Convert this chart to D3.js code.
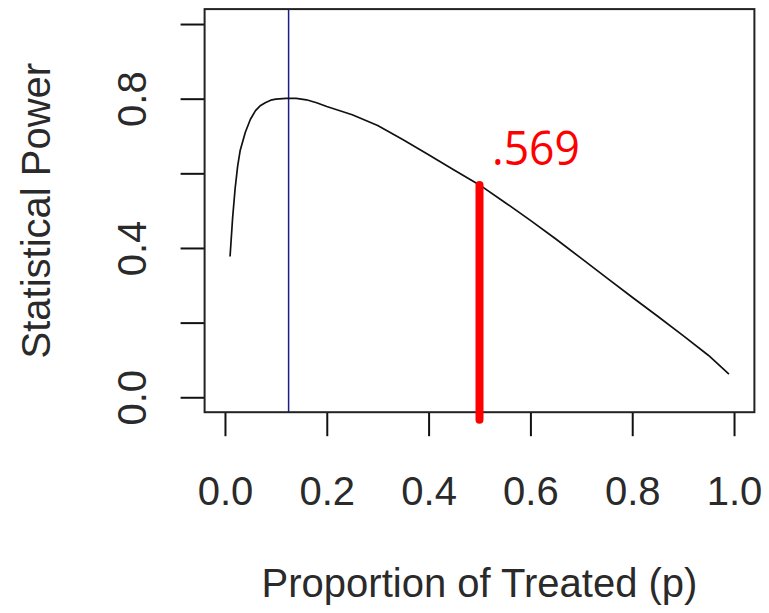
<!DOCTYPE html>
<html>
<head>
<meta charset="utf-8">
<script src="https://cdn.jsdelivr.net/npm/d3@7"></script>
<style>
  html, body { margin: 0; padding: 0; background: #fff; }
  svg { display: block; }
</style>
</head>
<body>
<svg id="chart" width="769" height="613"></svg>
<script>
// ---- data ----
const pValues = [0.01, 0.015, 0.02, 0.025, 0.03, 0.04, 0.05, 0.06, 0.07, 0.08, 0.09, 0.10,
                 0.12, 0.14, 0.16, 0.18, 0.20, 0.25, 0.30, 0.35, 0.40, 0.45, 0.50, 0.55,
                 0.60, 0.65, 0.70, 0.75, 0.80, 0.85, 0.90, 0.95, 0.99];
const powerValues = [0.377, 0.48, 0.56, 0.62, 0.662, 0.71, 0.745, 0.768, 0.782, 0.790, 0.796, 0.799,
                     0.801, 0.801, 0.797, 0.789, 0.779, 0.757, 0.728, 0.690, 0.650, 0.609, 0.569, 0.522,
                     0.474, 0.424, 0.372, 0.320, 0.268, 0.217, 0.165, 0.112, 0.062];
const xTicks = [0.0, 0.2, 0.4, 0.6, 0.8, 1.0];
const xTickLabels = ["0.0", "0.2", "0.4", "0.6", "0.8", "1.0"];
const yTicks = [0.0, 0.2, 0.4, 0.6, 0.8, 1.0];
const yTickLabels = ["0.0", "", "0.4", "", "0.8", ""];
const optimalP = 0.125;       // blue vertical line
const markedP = 0.5;          // red marker
const markedPower = 0.569;
const markedLabel = ".569";
const xTitle = "Proportion of Treated (p)";
const yTitle = "Statistical Power";

// ---- layout ----
const svg = d3.select("#chart");
const plotL = 204.6, plotR = 754.4, plotT = 9.1, plotB = 412.2;
const x = d3.scaleLinear().domain([-0.04, 1.04]).range([plotL, plotR]);
const y = d3.scaleLinear().domain([-0.04, 1.04]).range([plotB, plotT]);
const fontFam = "'Liberation Sans', Arial, sans-serif";
const textCol = "#2a2a2a";

// x axis
const xAxis = d3.axisBottom(x).tickValues(xTicks).tickSize(24)
  .tickFormat((d, i) => xTickLabels[i]);
const gx = svg.append("g").attr("transform", `translate(0,${plotB})`).call(xAxis);
gx.select(".domain").remove();
gx.selectAll(".tick line").attr("stroke", "#111").attr("stroke-width", 2);
gx.selectAll(".tick text")
  .attr("y", 505 - plotB).attr("dy", 0)
  .attr("fill", textCol).style("font-family", fontFam).style("font-size", "40px");

// y axis
const yAxis = d3.axisLeft(y).tickValues(yTicks).tickSize(24)
  .tickFormat((d, i) => yTickLabels[i]);
const gy = svg.append("g").attr("transform", `translate(${plotL},0)`).call(yAxis);
gy.select(".domain").remove();
gy.selectAll(".tick line").attr("stroke", "#111").attr("stroke-width", 2);
gy.selectAll(".tick text")
  .attr("x", null).attr("dy", null)
  .attr("transform", `translate(${146 - plotL},0) rotate(-90)`)
  .attr("text-anchor", "middle")
  .attr("fill", textCol).style("font-family", fontFam).style("font-size", "40px");

// blue vertical line (full plot height)
svg.append("line")
  .attr("x1", x(optimalP)).attr("x2", x(optimalP))
  .attr("y1", plotT).attr("y2", plotB)
  .attr("stroke", "#1c1c8a").attr("stroke-width", 1.5);

// curve
const pts = pValues.map((p, i) => [p, powerValues[i]]);
const line = d3.line().x(d => x(d[0])).y(d => y(d[1]));
svg.append("path").datum(pts).attr("d", line)
  .attr("fill", "none").attr("stroke", "#111").attr("stroke-width", 1.7)
  .attr("stroke-linejoin", "round");

// plot box
svg.append("rect")
  .attr("x", plotL).attr("y", plotT)
  .attr("width", plotR - plotL).attr("height", plotB - plotT)
  .attr("fill", "none").attr("stroke", "#222").attr("stroke-width", 2);

// red marker line
svg.append("line")
  .attr("x1", x(markedP)).attr("x2", x(markedP))
  .attr("y1", y(markedPower)).attr("y2", y(-0.06))
  .attr("stroke", "#ff0000").attr("stroke-width", 8).attr("stroke-linecap", "round");

svg.append("text")
  .attr("x", 492).attr("y", 165)
  .attr("fill", "#ff0000")
  .attr("textLength", 88).attr("lengthAdjust", "spacingAndGlyphs")
  .style("font-family", "'Open Sans', 'Noto Sans', sans-serif")
  .style("font-size", "47px")
  .text(markedLabel);

// axis titles
svg.append("text")
  .attr("x", (plotL + plotR) / 2).attr("y", 597)
  .attr("text-anchor", "middle")
  .attr("fill", textCol).style("font-family", fontFam).style("font-size", "40px")
  .text(xTitle);

svg.append("text")
  .attr("transform", `translate(50,${(plotT + plotB) / 2}) rotate(-90)`)
  .attr("text-anchor", "middle")
  .attr("fill", textCol).style("font-family", fontFam).style("font-size", "40px")
  .text(yTitle);
</script>
</body>
</html>
